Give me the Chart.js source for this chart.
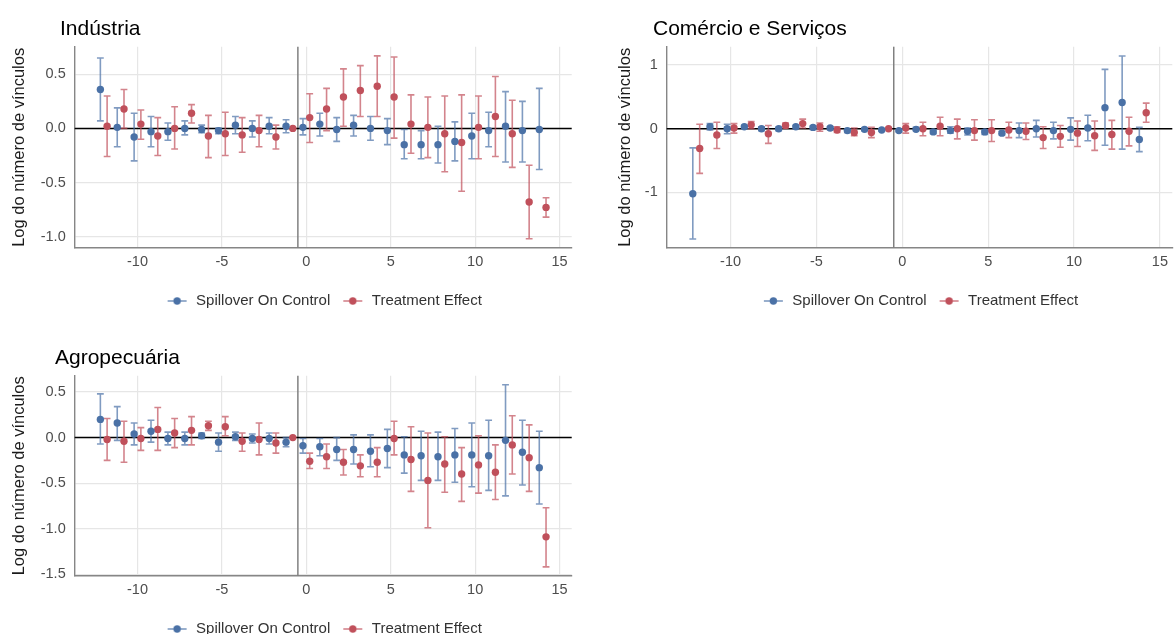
<!DOCTYPE html>
<html>
<head>
<meta charset="utf-8">
<script src="https://cdn.jsdelivr.net/npm/chart.js@4.4.1/dist/chart.umd.min.js"></script>
<style>
  html, body { margin: 0; padding: 0; background: #fff; overflow: hidden; }
  body { width: 1176px; height: 634px; position: relative; }
  canvas { position: absolute; }
</style>
</head>
<body>
<canvas id="industria" width="588" height="330" style="left:0;top:0"></canvas>
<canvas id="comercio" width="588" height="330" style="left:588px;top:0"></canvas>
<canvas id="agro" width="588" height="330" style="left:0;top:330px"></canvas>
<script>
const periods = [-12, -11, -10, -9, -8, -7, -6, -5, -4, -3, -2, -1, 0, 1, 2, 3, 4, 5, 6, 7, 8, 9, 10, 11, 12, 13, 14];
const xTicks = [-10, -5, 0, 5, 10, 15];

// Indústria
const indSpill   = [0.36, 0.01, -0.08, -0.03, -0.03, 0.00, -0.01, -0.02, 0.03, 0.00, 0.02, 0.02, 0.01, 0.04, -0.01, 0.03, 0.00, -0.02, -0.15, -0.15, -0.15, -0.12, -0.07, -0.02, 0.02, -0.02, -0.01];
const indSpillLo = [0.07, -0.17, -0.30, -0.17, -0.11, -0.06, -0.04, -0.05, -0.05, -0.08, -0.05, -0.04, -0.06, -0.07, -0.12, -0.07, -0.11, -0.15, -0.28, -0.28, -0.32, -0.30, -0.28, -0.17, -0.31, -0.31, -0.38];
const indSpillHi = [0.65, 0.19, 0.14, 0.11, 0.05, 0.07, 0.03, 0.00, 0.11, 0.07, 0.10, 0.08, 0.09, 0.14, 0.10, 0.12, 0.11, 0.09, -0.01, -0.02, 0.02, 0.06, 0.14, 0.15, 0.34, 0.25, 0.37];
const indTreat   = [0.02, 0.18, 0.04, -0.07, 0.00, 0.14, -0.07, -0.05, -0.06, -0.02, -0.08, 0.00, 0.10, 0.18, 0.29, 0.35, 0.39, 0.29, 0.04, 0.01, -0.05, -0.13, 0.01, 0.11, -0.05, -0.68, -0.73];
const indTreatLo = [-0.26, 0.00, -0.10, -0.25, -0.19, 0.05, -0.27, -0.25, -0.22, -0.17, -0.19, 0.00, -0.13, -0.02, 0.02, 0.11, 0.11, -0.09, -0.23, -0.27, -0.40, -0.58, -0.28, -0.26, -0.36, -1.02, -0.82];
const indTreatHi = [0.30, 0.36, 0.17, 0.10, 0.20, 0.22, 0.12, 0.15, 0.10, 0.12, 0.03, 0.00, 0.32, 0.37, 0.55, 0.58, 0.67, 0.66, 0.31, 0.29, 0.30, 0.31, 0.30, 0.48, 0.26, -0.34, -0.64];

// Comércio e Serviços
const comSpill   = [-1.02, 0.03, 0.00, 0.03, 0.00, 0.00, 0.03, 0.02, 0.01, -0.03, -0.01, -0.02, -0.03, -0.01, -0.05, -0.03, -0.04, -0.05, -0.07, -0.03, 0.00, -0.03, -0.01, 0.01, 0.33, 0.41, -0.17];
const comSpillLo = [-1.73, -0.02, -0.08, 0.00, -0.03, -0.03, 0.00, -0.01, -0.02, -0.06, -0.03, -0.04, -0.05, -0.03, -0.08, -0.07, -0.10, -0.09, -0.10, -0.14, -0.13, -0.16, -0.18, -0.19, -0.26, -0.32, -0.36];
const comSpillHi = [-0.30, 0.08, 0.07, 0.05, 0.03, 0.02, 0.05, 0.04, 0.03, -0.01, 0.01, 0.00, -0.01, 0.02, -0.02, 0.03, 0.01, -0.02, -0.04, 0.09, 0.13, 0.10, 0.17, 0.21, 0.93, 1.14, 0.02];
const comTreat   = [-0.31, -0.10, 0.01, 0.06, -0.08, 0.05, 0.08, 0.03, -0.02, -0.06, -0.06, 0.00, 0.01, 0.00, 0.04, 0.00, -0.03, -0.03, -0.02, -0.04, -0.14, -0.12, -0.07, -0.11, -0.09, -0.04, 0.25];
const comTreatLo = [-0.70, -0.31, -0.07, 0.00, -0.23, 0.01, 0.01, -0.04, -0.06, -0.11, -0.14, 0.00, -0.07, -0.11, -0.11, -0.16, -0.18, -0.20, -0.14, -0.17, -0.31, -0.29, -0.28, -0.34, -0.32, -0.27, 0.10];
const comTreatHi = [0.07, 0.10, 0.08, 0.11, 0.05, 0.09, 0.15, 0.09, 0.03, 0.01, 0.02, 0.00, 0.08, 0.10, 0.18, 0.15, 0.14, 0.14, 0.10, 0.09, 0.03, 0.05, 0.12, 0.12, 0.13, 0.18, 0.40];

// Agropecuária
const agroSpill   = [0.20, 0.16, 0.04, 0.07, -0.01, -0.01, 0.02, -0.05, 0.01, -0.01, -0.01, -0.05, -0.09, -0.10, -0.13, -0.13, -0.15, -0.12, -0.19, -0.20, -0.21, -0.19, -0.19, -0.20, -0.03, -0.16, -0.33];
const agroSpillLo = [-0.07, -0.03, -0.08, -0.05, -0.08, -0.08, -0.01, -0.15, -0.03, -0.06, -0.07, -0.10, -0.17, -0.20, -0.25, -0.29, -0.32, -0.33, -0.39, -0.47, -0.47, -0.49, -0.54, -0.58, -0.64, -0.52, -0.73];
const agroSpillHi = [0.48, 0.34, 0.16, 0.19, 0.06, 0.06, 0.05, 0.05, 0.06, 0.04, 0.05, 0.00, -0.01, -0.01, 0.00, 0.03, 0.03, 0.09, 0.01, 0.07, 0.06, 0.10, 0.16, 0.19, 0.58, 0.19, 0.07];
const agroTreat   = [-0.02, -0.04, -0.01, 0.09, 0.05, 0.08, 0.13, 0.12, -0.04, -0.02, -0.06, 0.00, -0.26, -0.21, -0.27, -0.31, -0.27, -0.01, -0.24, -0.47, -0.29, -0.40, -0.30, -0.38, -0.08, -0.22, -1.09];
const agroTreatLo = [-0.25, -0.27, -0.14, -0.14, -0.11, -0.08, 0.08, 0.02, -0.15, -0.19, -0.17, 0.00, -0.34, -0.34, -0.41, -0.43, -0.43, -0.19, -0.59, -0.99, -0.60, -0.70, -0.61, -0.68, -0.40, -0.59, -1.42];
const agroTreatHi = [0.21, 0.18, 0.11, 0.33, 0.21, 0.23, 0.18, 0.23, 0.05, 0.16, 0.05, 0.00, -0.17, -0.07, -0.13, -0.19, -0.11, 0.18, 0.12, 0.05, 0.01, -0.11, 0.02, -0.08, 0.24, 0.14, -0.77];

const FONT = "'Liberation Sans', Arial, sans-serif";
Chart.defaults.font.family = FONT;

const BLUE = '#4a71a6', BLUE_BAR = 'rgba(74,113,166,0.7)';
const RED = '#c0505b', RED_BAR = 'rgba(192,80,91,0.7)';
const DODGE = 0.2;

function legendIcon(dot, bar) {
  const c = document.createElement('canvas');
  c.width = 24; c.height = 10;
  const g = c.getContext('2d');
  g.strokeStyle = bar; g.lineWidth = 1.6;
  g.beginPath(); g.moveTo(3, 5); g.lineTo(22, 5); g.stroke();
  g.fillStyle = dot;
  g.beginPath(); g.arc(12.5, 5, 3.7, 0, Math.PI * 2); g.fill();
  return c;
}

// error bars + reference lines, drawn under the points
const errorBars = {
  id: 'errorBars',
  beforeDatasetsDraw(chart) {
    const {ctx, chartArea: a, scales: {x, y}} = chart;
    ctx.save();
    ctx.lineWidth = 1.5;
    ctx.strokeStyle = '#808080';
    const vx = x.getPixelForValue(-0.5);
    ctx.beginPath(); ctx.moveTo(vx, a.top); ctx.lineTo(vx, a.bottom); ctx.stroke();
    ctx.strokeStyle = '#000';
    const zy = y.getPixelForValue(0);
    ctx.beginPath(); ctx.moveTo(a.left, zy); ctx.lineTo(a.right, zy); ctx.stroke();

    chart.data.datasets.forEach((ds, i) => {
      const meta = chart.getDatasetMeta(i);
      ctx.strokeStyle = ds.barColor;
      ctx.lineWidth = 1.6;
      meta.data.forEach((pt, j) => {
        const d = ds.data[j];
        if (d.lo === d.hi) return;
        const t = y.getPixelForValue(d.hi), b = y.getPixelForValue(d.lo);
        ctx.beginPath();
        ctx.moveTo(pt.x, t); ctx.lineTo(pt.x, b);
        ctx.moveTo(pt.x - 3.4, t); ctx.lineTo(pt.x + 3.4, t);
        ctx.moveTo(pt.x - 3.4, b); ctx.lineTo(pt.x + 3.4, b);
        ctx.stroke();
      });
    });
    ctx.restore();
  }
};

const panelTitle = {
  id: 'panelTitle',
  afterDraw(chart, args, opts) {
    const {ctx, chartArea} = chart;
    ctx.save();
    ctx.font = '21px ' + FONT;
    ctx.fillStyle = '#000';
    ctx.textBaseline = 'alphabetic';
    ctx.fillText(opts.text, opts.x, chartArea.top - 12);
    ctx.restore();
  }
};

function series(label, est, lo, hi, shift, color, barColor) {
  return {
    label,
    data: periods.map((t, i) => ({x: t + shift, y: est[i], lo: lo[i], hi: hi[i]})),
    pointRadius: 3.7,
    pointHoverRadius: 3.7,
    pointBorderWidth: 0,
    pointBackgroundColor: color,
    backgroundColor: color,
    borderColor: color,
    barColor
  };
}

function makePanel(id, p) {
  new Chart(document.getElementById(id), {
    type: 'scatter',
    data: {
      datasets: [
        series('Spillover On Control', p.spill, p.spillLo, p.spillHi, -DODGE, BLUE, BLUE_BAR),
        series('Treatment Effect', p.treat, p.treatLo, p.treatHi, DODGE, RED, RED_BAR)
      ]
    },
    options: {
      responsive: false,
      animation: false,
      layout: {padding: {left: 0, top: p.padTop, right: p.padRight, bottom: p.padBottom}},
      scales: {
        x: {
          type: 'linear', min: -13.72, max: 15.72,
          afterBuildTicks: s => { s.ticks = xTicks.map(v => ({value: v})); },
          afterFit: s => { s.height = 35.5; },
          grid: {color: '#e6e6e6', lineWidth: 1.2, drawTicks: false},
          border: {display: true, color: '#868686', width: 1.4},
          ticks: {padding: 5, autoSkip: false, maxRotation: 0, color: '#4d4d4d', font: {size: 14.5}, callback: v => String(v)}
        },
        y: {
          min: p.yMin, max: p.yMax,
          afterBuildTicks: s => { s.ticks = p.yTicks.map(v => ({value: v})); },
          afterFit: s => { s.width = p.yWidth; },
          grid: {color: '#e6e6e6', lineWidth: 1.2, drawTicks: false},
          border: {display: true, color: '#868686', width: 1.4},
          ticks: {padding: 9, color: '#4d4d4d', font: {size: 14.5}, callback: v => v.toFixed(p.dec)},
          title: {display: true, text: 'Log do número de vínculos', color: '#1a1a1a', font: {size: 16.5}, padding: {top: p.yTitlePad, bottom: 0}}
        }
      },
      plugins: {
        tooltip: {enabled: false},
        panelTitle: {text: p.title, x: p.titleX},
        legend: {
          position: 'bottom',
          fullSize: false,
          labels: {
            usePointStyle: true,
            pointStyleWidth: 24,
            padding: 10,
            color: '#333',
            font: {size: 15},
            generateLabels: chart => chart.data.datasets.map((ds, i) => ({
              text: ds.label,
              pointStyle: legendIcon(ds.pointBackgroundColor, ds.barColor),
              fillStyle: ds.pointBackgroundColor,
              strokeStyle: ds.pointBackgroundColor,
              lineWidth: 0,
              hidden: false,
              datasetIndex: i,
              fontColor: '#333'
            }))
          }
        }
      }
    },
    plugins: [errorBars, panelTitle]
  });
}

makePanel('industria', {
  title: 'Indústria', titleX: 60,
  spill: indSpill, spillLo: indSpillLo, spillHi: indSpillHi,
  treat: indTreat, treatLo: indTreatLo, treatHi: indTreatHi,
  yMin: -1.105, yMax: 0.755, yTicks: [-1, -0.5, 0, 0.5], dec: 1,
  yWidth: 74.7, yTitlePad: 10, padTop: 46.7, padRight: 16.3, padBottom: 11.5
});

makePanel('comercio', {
  title: 'Comércio e Serviços', titleX: 65,
  spill: comSpill, spillLo: comSpillLo, spillHi: comSpillHi,
  treat: comTreat, treatLo: comTreatLo, treatHi: comTreatHi,
  yMin: -1.87, yMax: 1.285, yTicks: [-1, 0, 1], dec: 0,
  yWidth: 78.7, yTitlePad: 28, padTop: 46.7, padRight: 1, padBottom: 11.5
});

makePanel('agro', {
  title: 'Agropecuária', titleX: 55,
  spill: agroSpill, spillLo: agroSpillLo, spillHi: agroSpillHi,
  treat: agroTreat, treatLo: agroTreatLo, treatHi: agroTreatHi,
  yMin: -1.52, yMax: 0.68, yTicks: [-1.5, -1, -0.5, 0, 0.5], dec: 1,
  yWidth: 74.7, yTitlePad: 10, padTop: 45.7, padRight: 16.3, padBottom: 13.5
});
</script>
</body>
</html>
